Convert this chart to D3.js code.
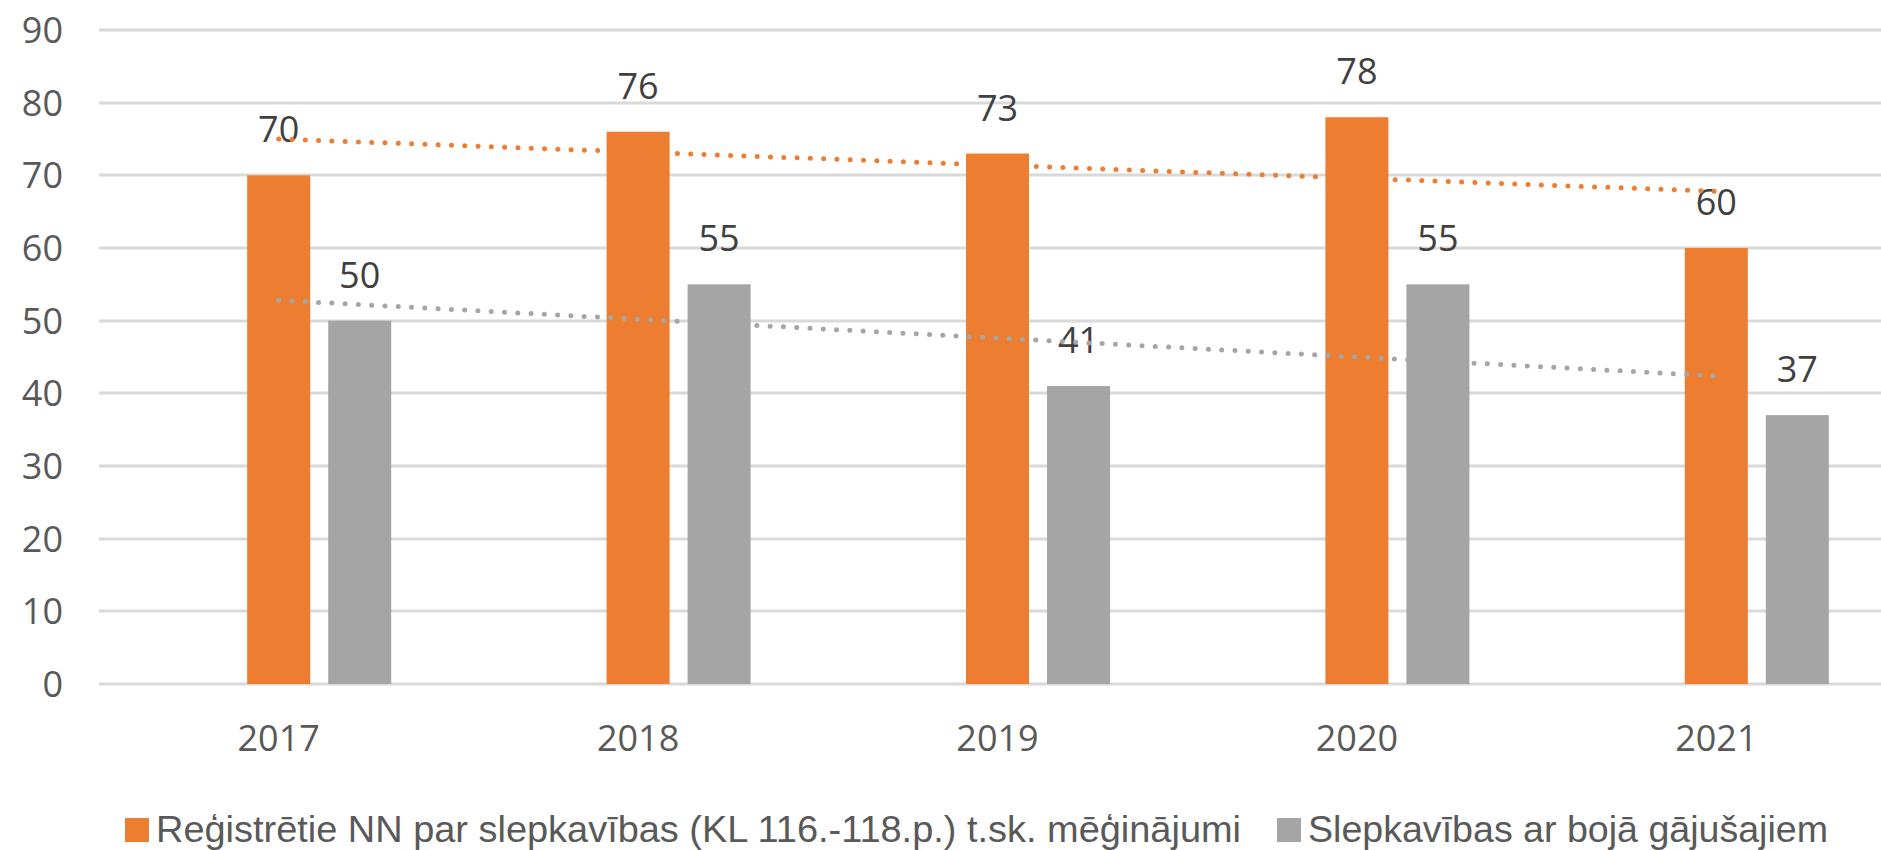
<!DOCTYPE html>
<html>
<head>
<meta charset="utf-8">
<script src="https://cdn.jsdelivr.net/npm/d3@7"></script>
<style>
  html, body { margin: 0; padding: 0; background: #fff; }
</style>
</head>
<body>
<div id="chart"></div>
<script>
// Data.
const years = ["2017", "2018", "2019", "2020", "2021"];
const seriesKeys = ["registered", "deaths"];
const seriesNames = [
    "Reģistrētie NN par slepkavības (KL 116.-118.p.) t.sk. mēģinājumi",
    "Slepkavības ar bojā gājušajiem"
];
const seriesColors = ["#ED7D31", "#A5A5A5"];
const registered = [70, 76, 73, 78, 60];
const deaths = [50, 55, 41, 55, 37];
const yTicks = [0, 10, 20, 30, 40, 50, 60, 70, 80, 90];

const values = { registered, deaths };

// Chart dimensions.
const width = 1881;
const height = 850;
const marginTop = 30;
const marginLeft = 99;
const plotBottom = 684;
const plotRight = 1896;

const tickFont = "'Open Sans', 'Noto Sans', sans-serif";
const legendFont = "'Liberation Sans Narrow', 'Liberation Sans', sans-serif";

const svg = d3.select("#chart")
    .append("svg")
    .attr("width", width)
    .attr("height", height)
    .attr("viewBox", [0, 0, width, height]);

const x0 = d3.scaleBand()
    .domain(years)
    .range([marginLeft, plotRight]);

// Orange bar sits centred on the category, grey one to its right.
const x1 = d3.scaleBand()
    .domain(seriesKeys)
    .range([-40.5, 121.5])
    .paddingInner(0.222)
    .paddingOuter(0.111);

const y = d3.scaleLinear()
    .domain([0, 90])
    .range([plotBottom, marginTop]);

const color = d3.scaleOrdinal(seriesKeys, seriesColors);

// Gridlines.
svg.append("g")
    .attr("stroke", "#d9d9d9")
    .attr("stroke-width", 3)
    .selectAll("line")
    .data(yTicks)
    .join("line")
        .attr("x1", marginLeft)
        .attr("x2", width)
        .attr("y1", d => Math.round(y(d)))
        .attr("y2", d => Math.round(y(d)));

// Y axis labels.
svg.append("g")
    .attr("font-family", tickFont)
    .attr("font-size", 36)
    .attr("fill", "#595959")
    .attr("text-anchor", "end")
    .selectAll("text")
    .data(yTicks)
    .join("text")
        .attr("x", 63)
        .attr("y", d => y(d))
        .attr("dy", "0.36em")
        .text(d => d);

// X axis labels.
svg.append("g")
    .attr("font-family", tickFont)
    .attr("font-size", 36)
    .attr("fill", "#595959")
    .attr("text-anchor", "middle")
    .selectAll("text")
    .data(years)
    .join("text")
        .attr("x", d => x0(d) + x0.bandwidth() / 2)
        .attr("y", 751)
        .text(d => d);

// Bars.
const groups = svg.append("g")
    .selectAll("g")
    .data(years)
    .join("g")
        .attr("transform", d => `translate(${x0(d) + x0.bandwidth() / 2},0)`);

groups.selectAll("rect")
    .data((d, i) => seriesKeys.map(k => ({ key: k, value: values[k][i] })))
    .join("rect")
        .attr("x", d => x1(d.key))
        .attr("width", x1.bandwidth())
        .attr("y", d => y(d.value))
        .attr("height", d => plotBottom - y(d.value))
        .attr("fill", d => color(d.key));

// Data labels.
groups.selectAll("text")
    .data((d, i) => seriesKeys.map(k => ({ key: k, value: values[k][i] })))
    .join("text")
        .attr("font-family", tickFont)
        .attr("font-size", 36)
        .attr("fill", "#404040")
        .attr("text-anchor", "middle")
        .attr("x", d => x1(d.key) + x1.bandwidth() / 2)
        .attr("y", d => y(d.value) - 33)
        .text(d => d.value);

// Linear trendlines (least squares over category index).
function trend(vals) {
    const xs = vals.map((v, i) => i + 1);
    const mx = d3.mean(xs);
    const my = d3.mean(vals);
    const slope = d3.sum(xs, (xv, i) => (xv - mx) * (vals[i] - my)) / d3.sum(xs, xv => (xv - mx) ** 2);
    return xs.map(xv => my + slope * (xv - mx));
}

const line = d3.line()
    .x((d, i) => x0(years[i]) + x0.bandwidth() / 2)
    .y(d => y(d));

svg.append("g")
    .attr("fill", "none")
    .attr("stroke-width", 5)
    .attr("stroke-linecap", "round")
    .attr("stroke-dasharray", "0 13.3")
    .selectAll("path")
    .data(seriesKeys)
    .join("path")
        .attr("stroke", k => color(k))
        .attr("d", k => line(trend(values[k])));

// Legend: the source uses a condensed face, so squeeze text to its width.
const legendWidths = [1085, 520];
const legend = svg.append("g")
    .attr("font-family", legendFont)
    .attr("font-size", 36)
    .attr("fill", "#595959");

let lx = 125;
seriesKeys.forEach((k, i) => {
    legend.append("rect")
        .attr("x", lx)
        .attr("y", 818)
        .attr("width", 24)
        .attr("height", 24)
        .attr("fill", color(k));
    legend.append("text")
        .attr("x", lx + 31)
        .attr("y", 842)
        .attr("textLength", legendWidths[i])
        .attr("lengthAdjust", "spacingAndGlyphs")
        .text(seriesNames[i]);
    lx += 31 + legendWidths[i] + 36;
});
</script>
</body>
</html>
